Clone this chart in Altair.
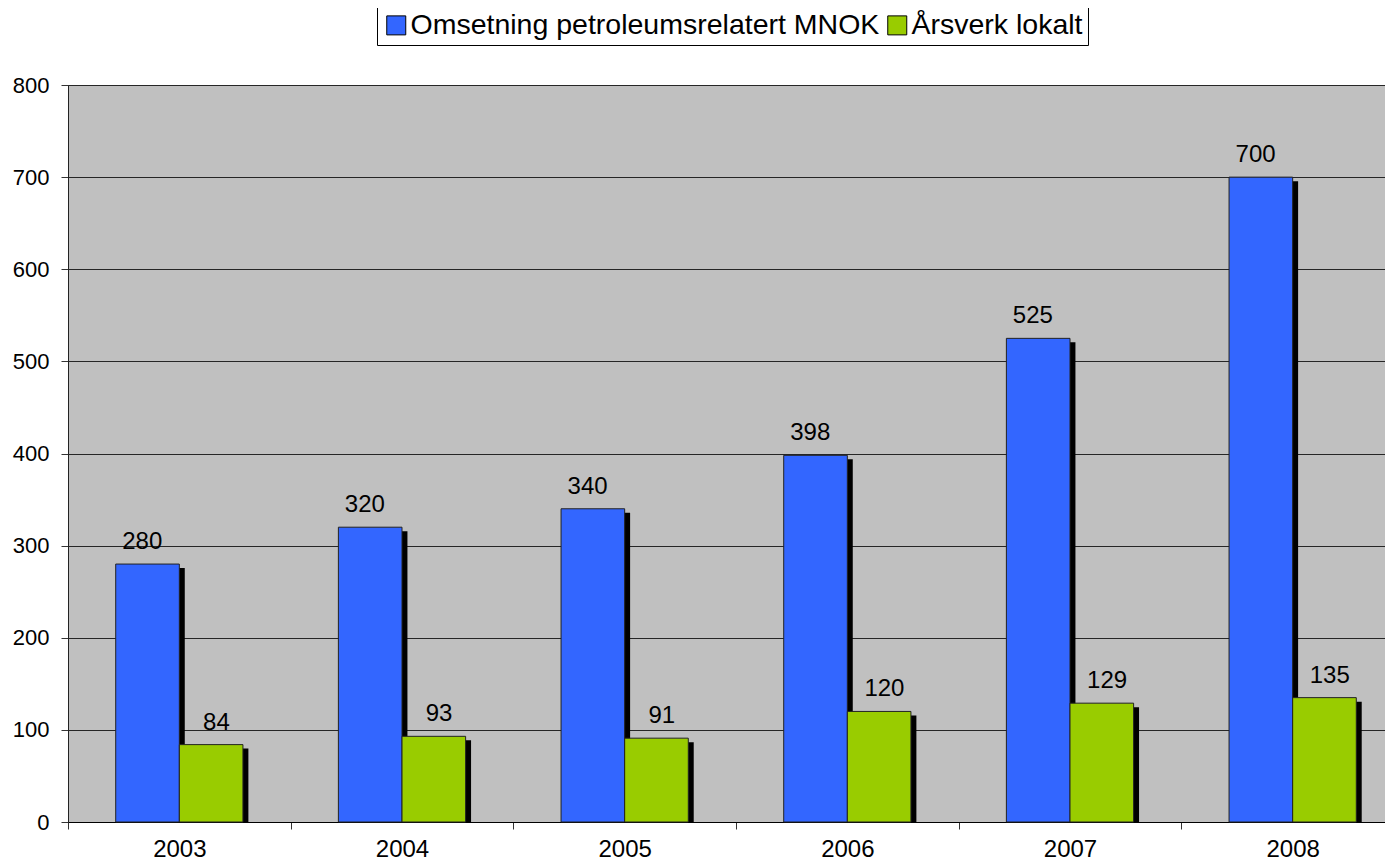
import altair as alt
import pandas as pd

years = ["2003", "2004", "2005", "2006", "2007", "2008"]
series = ["Omsetning petroleumsrelatert MNOK", "Årsverk lokalt"]
omsetning = [280, 320, 340, 398, 525, 700]
arsverk = [84, 93, 91, 120, 129, 135]
colors = ["#3366FF", "#99CC00"]

rows = []
for i, yr in enumerate(years):
    rows.append({"year": yr, "series": series[0], "value": omsetning[i]})
    rows.append({"year": yr, "series": series[1], "value": arsverk[i]})
df = pd.DataFrame(rows)

FONT = "Liberation Sans"

x = alt.X(
    "year:N",
    sort=years,
    scale=alt.Scale(paddingInner=0, paddingOuter=0, range=[0, 1336]),
    axis=alt.Axis(
        title=None, labelAngle=0, tickBand="extent", tickSize=7,
        labelFontSize=24, labelFont=FONT, labelColor="black",
        labelPadding=8, domainColor="black", tickColor="#333333",
        grid=False,
    ),
)
xo = alt.XOffset(
    "series:N",
    sort=series,
    scale=alt.Scale(domain=series, paddingInner=0, paddingOuter=0.75),
)
xo_shadow = alt.XOffset(
    "series:N",
    sort=series,
    scale=alt.Scale(domain=series, paddingInner=0, paddingOuter=0.75, align=0.557),
)
xo_text = alt.XOffset(
    "series:N",
    sort=series,
    scale=alt.Scale(type="point", domain=series, padding=1.25),
)
y = alt.Y(
    "value:Q",
    scale=alt.Scale(domain=[0, 800], nice=False),
    axis=alt.Axis(
        title=None, values=list(range(0, 801, 100)), tickSize=7,
        labelFontSize=22, labelFont=FONT, labelColor="black",
        labelPadding=12, domainColor="#222222", tickColor="#333333",
        grid=True, gridColor="#262626", gridWidth=1,
    ),
)

base = alt.Chart(df)

shadow = base.mark_bar(color="black", yOffset=4, y2Offset=0).encode(
    x=x, xOffset=xo_shadow, y=y, y2=alt.datum(0)
)

bars = base.mark_bar(stroke="#222222", strokeWidth=1).encode(
    x=x,
    xOffset=xo,
    y=y,
    color=alt.Color(
        "series:N",
        sort=series,
        scale=alt.Scale(domain=series, range=colors),
        legend=alt.Legend(
            title=None, orient="none", legendX=309, legendY=-79,
            direction="horizontal",
            symbolType="square", symbolSize=361,
            symbolStrokeColor="black", symbolStrokeWidth=1,
            labelFontSize=28.5, labelFont=FONT, labelColor="black",
            labelLimit=1000, strokeColor="black", fillColor="white",
            padding=5, columnPadding=3, labelOffset=0,
        ),
    ),
)

labels = base.mark_text(
    dy=-15, baseline="alphabetic", fontSize=24, font=FONT, color="black"
).encode(x=x, xOffset=xo_text, y=y, text=alt.Text("value:Q"))

chart = (
    alt.layer(shadow, bars, labels)
    .resolve_scale(xOffset="independent")
    .properties(
        width=1317,
        height=737,
        autosize=alt.AutoSizeParams(type="none"),
        padding={"left": 60, "top": 77, "right": 0, "bottom": 38},
        background="white",
    )
    .configure_view(fill="#C0C0C0", stroke="#222222", strokeWidth=1)
)

chart.save("out.html", embed_options={"renderer": "svg", "actions": False})
